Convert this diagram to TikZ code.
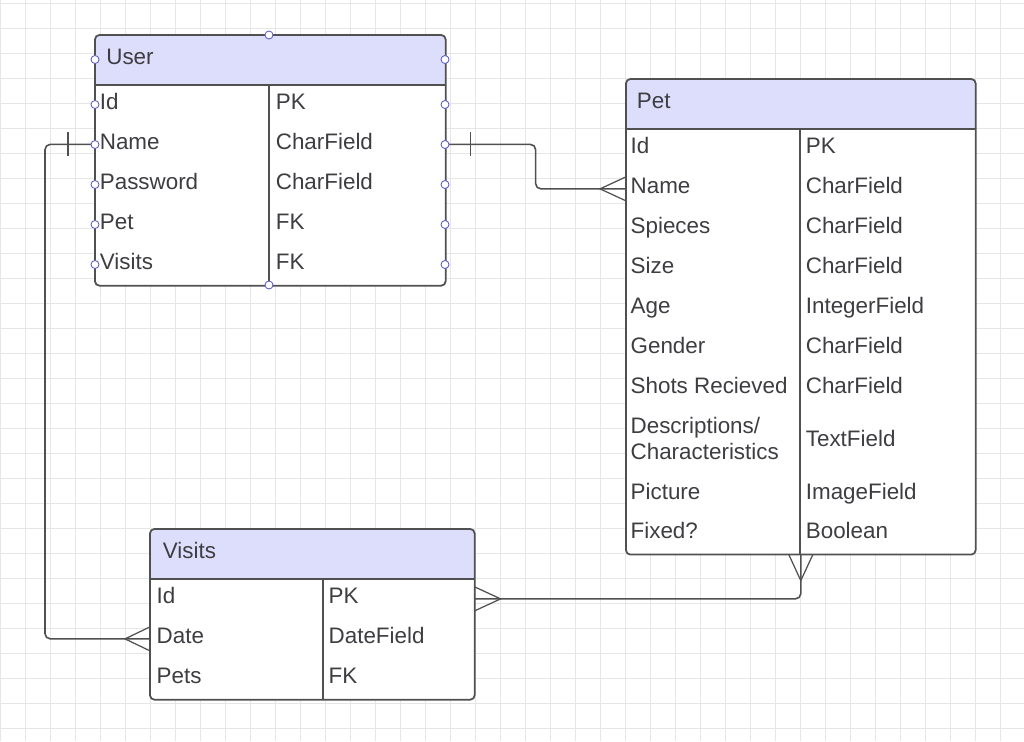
\documentclass[tikz,border=0pt]{standalone}
\usepackage{fontspec}
\setmainfont{Liberation Sans}

\definecolor{hdrfill}{RGB}{221,222,252}
\definecolor{inkline}{RGB}{80,80,80}
\definecolor{inktext}{RGB}{62,62,66}
\definecolor{gridgray}{RGB}{230,230,230}
\definecolor{handle}{RGB}{96,96,200}

\tikzset{
    tablebox/.style={fill=white, inner sep=0pt, anchor=north west},
    outline/.style={draw=inkline, line width=1pt, rounded corners=2.5pt},
    rule/.style={draw=inkline, line width=1pt},
    field/.style={anchor=base west, inner sep=0pt, text=inktext,
        font=\fontsize{12.75}{14.8}\selectfont},
    link/.style={draw=inkline, line width=0.9pt, rounded corners=3pt},
    foot/.style={draw=inkline, line width=0.7pt},
    handledot/.style={circle, draw=handle, fill=white, line width=0.5pt,
        inner sep=0pt, minimum size=0.16cm}
}

\begin{document}
\begin{tikzpicture}[x=0.02cm, y=-0.02cm]
    % ── hoja cuadriculada ──────────────────────────
    \fill[white] (0,0) rectangle (1024,741);
    \useasboundingbox (0,0) rectangle (1024,741);
    \foreach \gx in {0.7,25.7,...,1024} \draw[gridgray, line width=0.5pt] (\gx,0) -- (\gx,741);
    \foreach \gy in {3.3,28.3,...,741} \draw[gridgray, line width=0.5pt] (0,\gy) -- (1024,\gy);

    % ── tabla User ──────────────────────────
    \node[tablebox, minimum width=7cm, minimum height=5cm] (user) at (95,35) {};
    \fill[hdrfill, rounded corners=2.5pt] (95,35) rectangle (445,85);
    \fill[hdrfill] (95,60) rectangle (445,85);
    \draw[outline] (user.south west) rectangle (user.north east);
    \draw[rule] (95,85) -- (445,85);
    \draw[rule] (269,85) -- (269,285);
    \node[field] (user-h) at (106,64.5) {User};
    \foreach \f/\t [count=\i] in {Id/PK, Name/CharField, Password/CharField, Pet/FK, Visits/FK} {
        \node[field] (user-f\i) at (99.5,69+40*\i) {\f};
        \node[field] (user-t\i) at (275.5,69+40*\i) {\t};
    }

    % ── tabla Pet ──────────────────────────
    \node[tablebox, minimum width=6.98cm, minimum height=9.5cm] (pet) at (626,79) {};
    \fill[hdrfill, rounded corners=2.5pt] (626,79) rectangle (975,129);
    \fill[hdrfill] (626,104) rectangle (975,129);
    \draw[outline] (pet.south west) rectangle (pet.north east);
    \draw[rule] (626,129) -- (975,129);
    \draw[rule] (800,129) -- (800,554);
    \node[field] (pet-h) at (636.5,108.5) {Pet};
    \foreach \f/\t [count=\i] in {Id/PK, Name/CharField, Spieces/CharField, Size/CharField,
            Age/IntegerField, Gender/CharField, Shots Recieved/CharField} {
        \node[field] (pet-f\i) at (630.3,113.5+40*\i) {\f};
        \node[field] (pet-t\i) at (805.5,113.5+40*\i) {\t};
    }
    \node[field, anchor=north west, align=left] (pet-f8) at (630.3,417) {Descriptions/\\Characteristics};
    \node[field] (pet-t8) at (805.5,446) {TextField};
    \node[field] (pet-f9) at (630.3,499) {Picture};
    \node[field] (pet-t9) at (805.5,499) {ImageField};
    \node[field] (pet-f10) at (630.3,538.5) {Fixed?};
    \node[field] (pet-t10) at (805.5,538.5) {Boolean};

    % ── tabla Visits ──────────────────────────
    \node[tablebox, minimum width=6.48cm, minimum height=3.4cm] (visits) at (150,529) {};
    \fill[hdrfill, rounded corners=2.5pt] (150,529) rectangle (474,579);
    \fill[hdrfill] (150,554) rectangle (474,579);
    \draw[outline] (visits.south west) rectangle (visits.north east);
    \draw[rule] (150,579) -- (474,579);
    \draw[rule] (323,579) -- (323,699);
    \node[field] (visits-h) at (162.5,558) {Visits};
    \foreach \f/\t [count=\i] in {Id/PK, Date/DateField, Pets/FK} {
        \node[field] (visits-f\i) at (156.3,563.5+40*\i) {\f};
        \node[field] (visits-t\i) at (328.3,563.5+40*\i) {\t};
    }

    % ── relaciones ──────────────────────────
    % User.Name -> Pet.Name
    \draw[link] (user.east |- user-f2.mid) -- ++(90,0) |- (pet.west |- pet-f2.mid);
    \draw[foot] (user.east |- user-f2.mid) ++(25,-12) -- ++(0,24);
    \draw[foot] (pet.west |- pet-f2.mid) ++(0,-12) -- ++(-26,12) -- ++(26,12);
    % User.Name -> Visits.Date
    \draw[link] (user.west |- user-f2.mid) -- ++(-50,0) |- (visits.west |- visits-f2.mid);
    \draw[foot] (user.west |- user-f2.mid) ++(-27,-12) -- ++(0,24);
    \draw[foot] (visits.west |- visits-f2.mid) ++(0,-12) -- ++(-25,12) -- ++(25,12);
    % Visits.Id -> Pet
    \draw[link] (visits.east |- visits-f1.mid) -| (pet.south);
    \draw[foot] (visits.east |- visits-f1.mid) ++(0,-12) -- ++(26,12) -- ++(-26,12);
    \draw[foot] (pet.south) ++(-12,0) -- ++(12,26) -- ++(12,-26);

    % ── puntos de enganche de User ──────────────────────────
    \foreach \hy [count=\j] in {59.5,104.5,144.5,184.5,224.5,264.5} {
        \node[handledot] (hl\j) at (95,\hy) {};
        \node[handledot] (hr\j) at (445,\hy) {};
    }
    \node[handledot] (ht) at (269,35) {};
    \node[handledot] (hb) at (269,285) {};
\end{tikzpicture}
\end{document}
